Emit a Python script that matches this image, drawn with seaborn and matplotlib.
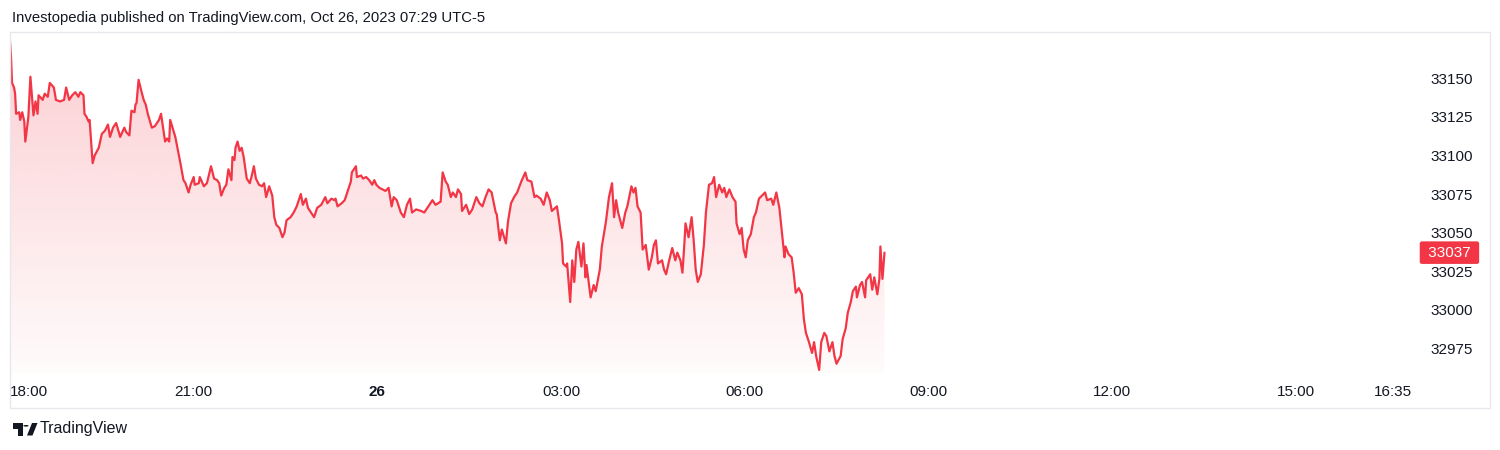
import matplotlib

matplotlib.use('Agg')
import matplotlib.pyplot as plt
import matplotlib.dates as mdates
from matplotlib.patches import Rectangle, Polygon, Circle
import seaborn as sns
import pandas as pd
import numpy as np

# ── data: Dow futures, minutes after 18:00 (Oct 25) and price ──
minutes = [0, 1, 2, 4, 5, 6, 9, 10, 12, 14, 15, 18, 20, 23, 25, 27, 28, 32, 34, 37, 39, 43, 45, 49, 53, 55,
           58, 61, 64, 67, 69, 72, 73, 75, 77, 78, 81, 83, 87, 90, 93, 96, 98, 101, 104, 108, 112, 114,
           117, 119, 122, 123, 124, 126, 129, 131, 133, 135, 139, 142, 146, 148, 150, 152, 154, 156, 157,
           161, 162, 165, 167, 170, 172, 175, 177, 180, 181, 185, 186, 190, 193, 197, 200, 203,
           205, 207, 210, 212, 214, 217, 218, 220, 221, 223, 225, 227, 229, 232, 235, 237, 239, 241, 244,
           247, 249, 251, 254, 257, 259, 261, 264, 267, 269, 271, 275, 278, 281, 285, 287, 290, 292, 295,
           298, 301, 305, 309, 311, 315, 318, 319, 321, 325, 328, 330, 334, 335, 339, 340, 344, 346, 349,
           352, 355, 357, 359, 362, 365, 368, 371, 374, 376, 379, 383, 386, 389, 392, 394, 398, 403, 406,
           411, 414, 417, 422, 424, 427, 429, 432, 434, 437, 439, 442, 443, 447, 450, 453, 457, 460, 463,
           466, 469, 472, 476, 477, 480, 482, 486, 488, 491, 494, 497, 501, 505, 507, 511, 514, 516, 520,
           523, 526, 529, 531, 536, 538, 541, 542, 545, 546, 549, 551, 553, 555, 557, 560, 562, 564, 565,
           569, 572, 574, 578, 580, 584, 587, 590, 592, 594, 596, 600, 603, 605, 609, 611, 613, 615, 618,
           620, 623, 626, 629, 631, 633, 635, 639, 641, 643, 646, 649, 652, 654, 657, 659, 661, 662, 665,
           668, 670, 672, 674, 677, 680, 682, 685, 688, 690, 692, 695, 698, 700, 702, 705, 708, 711, 712,
           715, 717, 719, 721, 723, 726, 729, 731, 734, 737, 740, 742, 746, 748, 751, 754, 757, 759, 760,
           763, 766, 768, 770, 773, 776, 778, 780, 783, 786, 788, 790, 793, 795, 798, 800, 803, 806, 808,
           810, 814, 816, 819, 821, 824, 826, 829, 830, 833, 835, 838, 839, 843, 845, 847, 850, 852, 853,
           855, 857]
prices = [33174, 33164, 33147, 33144, 33140, 33127, 33128, 33123, 33128, 33122, 33109, 33125, 33151, 33126,
          33135, 33127, 33139, 33136, 33140, 33138, 33147, 33144, 33136, 33135, 33136, 33144, 33136, 33139,
          33141, 33138, 33141, 33139, 33127, 33125, 33122, 33123, 33095, 33100, 33105, 33114, 33116, 33120,
          33112, 33118, 33121, 33112, 33118, 33115, 33113, 33129, 33128, 33133, 33134, 33149, 33141, 33136,
          33133, 33127, 33118, 33119, 33123, 33127, 33118, 33109, 33111, 33109, 33123, 33114, 33112, 33102,
          33095, 33084, 33082, 33076, 33081, 33086, 33081, 33082, 33086, 33080, 33082, 33093, 33085, 33084,
          33082, 33074, 33079, 33081, 33091, 33084, 33099, 33097, 33105, 33109, 33103, 33105, 33099, 33085,
          33082, 33087, 33093, 33085, 33081, 33080, 33082, 33073, 33080, 33074, 33060, 33055, 33053, 33047,
          33050, 33058, 33060, 33063, 33067, 33075, 33068, 33072, 33066, 33063, 33060, 33066, 33068, 33073,
          33069, 33072, 33071, 33072, 33067, 33069, 33071, 33075, 33083, 33089, 33093, 33086, 33087, 33085,
          33086, 33084, 33081, 33084, 33081, 33079, 33078, 33077, 33079, 33067, 33073, 33071, 33063, 33060,
          33068, 33072, 33063, 33065, 33064, 33063,
          33068, 33071, 33068, 33070, 33089, 33083, 33081, 33073, 33076, 33073, 33078, 33075, 33064, 33068,
          33062, 33065, 33073, 33069, 33067, 33073, 33078, 33076, 33063, 33062, 33045, 33052, 33043, 33057,
          33069, 33073, 33076, 33083, 33089, 33084, 33083, 33073, 33074, 33072, 33068, 33076, 33071, 33064,
          33067, 33058, 33043, 33030, 33028, 33030, 33005, 33032, 33018, 33039, 33044, 33028, 33043, 33021,
          33029, 33008, 33016, 33012, 33026, 33041, 33057, 33073, 33082, 33060, 33071, 33063, 33053, 33063,
          33067, 33080, 33076, 33079, 33067, 33063, 33039, 33042,
          33026, 33034, 33042, 33045, 33030, 33032, 33026, 33023, 33032, 33040, 33032, 33037, 33032, 33024,
          33044, 33056, 33047, 33060, 33045, 33026, 33018, 33023, 33042, 33063, 33081, 33082, 33086, 33073,
          33081, 33076, 33079, 33073, 33078, 33073, 33070, 33056, 33049, 33053, 33039, 33034, 33045, 33049,
          33060, 33063, 33072, 33074, 33076, 33071, 33072, 33068, 33076, 33066, 33047, 33034, 33041, 33036,
          33034, 33024, 33011, 33014, 33010, 32994, 32985, 32979, 32972, 32979, 32970, 32961, 32979, 32985,
          32983, 32973, 32979, 32970, 32965, 32970, 32981, 32988, 32998, 33005, 33012, 33015, 33008, 33016,
          33018, 33008, 33019, 33023, 33013, 33021, 33010, 33020, 33041, 33020, 33037]

tick_minutes = [0, 180, 360, 540, 720, 900, 1080, 1260, 1355]
tick_labels = ['18:00', '21:00', '26', '03:00', '06:00', '09:00', '12:00', '15:00', '16:35']
price_ticks = [32975, 33000, 33025, 33050, 33075, 33100, 33125, 33150]

RED = '#f23645'
TEXT = '#131722'
FRAME = '#e6e8ee'

sns.set_theme(style='white')
plt.rcParams['font.family'] = ['Liberation Sans', 'DejaVu Sans']

start = pd.Timestamp('2023-10-25 18:00')
df = pd.DataFrame({'time': start + pd.to_timedelta(minutes, unit='m'), 'price': prices})
tick_times = start + pd.to_timedelta(tick_minutes, unit='m')


def fig_xy(x, y):
    # pixel position (top-left origin) -> figure fraction
    return x / 1500, 1 - y / 450


fig = plt.figure(figsize=(15, 4.5), dpi=100)
ax = fig.add_axes([10 / 1500, 1 - 373 / 450, 1400 / 1500, 341 / 450])
ymin, ymax = 32959, 33180
x0, x1 = start, start + pd.Timedelta(minutes=1372)

# ── area fill with vertical gradient, clipped under the line ──
poly = ax.fill_between(df['time'], df['price'], ymin, color='none', lw=0)
n = 256
grad = np.zeros((n, 1, 4))
grad[..., 0], grad[..., 1], grad[..., 2] = 242 / 255, 54 / 255, 69 / 255
grad[:, 0, 3] = np.linspace(0.24, 0.02, n)
im = ax.imshow(grad, aspect='auto', origin='upper', interpolation='bilinear',
               extent=[mdates.date2num(x0), mdates.date2num(df['time'].iloc[-1]), ymin, max(prices)], zorder=1)
im.set_clip_path(poly.get_paths()[0], transform=ax.transData)

sns.lineplot(data=df, x='time', y='price', color=RED, linewidth=1.6, ax=ax, zorder=3)

ax.set_xlim(x0, x1)
ax.set_ylim(ymin, ymax)
for s in ax.spines.values():
    s.set_visible(False)
ax.grid(False)
ax.set_xlabel('')
ax.set_ylabel('')

ax.yaxis.tick_right()
ax.set_yticks(price_ticks)
ax.set_yticklabels([str(p) for p in price_ticks])
ax.tick_params(axis='y', length=0, pad=14.4, labelsize=11, labelcolor=TEXT)

ax.set_xticks(tick_times)
ax.set_xticklabels(tick_labels)
ax.tick_params(axis='x', length=0, pad=8.4, labelsize=11, labelcolor=TEXT)
xl = ax.get_xticklabels()
xl[0].set_horizontalalignment('left')
xl[2].set_fontweight('bold')

# last price tag
ax.annotate(f' {prices[-1]} ', xy=(1, prices[-1]), xycoords=('axes fraction', 'data'),
            xytext=(14, 0), textcoords='offset pixels', ha='left', va='center',
            fontsize=11, color='white', annotation_clip=False,
            bbox=dict(boxstyle='round,pad=0.28,rounding_size=0.15', fc=RED, ec='none'))

# outer frame
fx, fy = fig_xy(10, 408)
fig.add_artist(Rectangle((fx, fy), 1480 / 1500, 376 / 450, transform=fig.transFigure,
                         fill=False, ec=FRAME, lw=1))

# header and footer
hx, hy = fig_xy(12, 18)
fig.text(hx, hy, 'Investopedia published on TradingView.com, Oct 26, 2023 07:29 UTC-5',
         ha='left', va='center', fontsize=10.75, color=TEXT)
tx, ty = fig_xy(40, 429)
fig.text(tx, ty, 'TradingView', ha='left', va='center', fontsize=11.5, color=TEXT)

# TradingView logo glyph
logo = [
    Polygon([fig_xy(12.5, 423), fig_xy(23, 423), fig_xy(23, 435.5), fig_xy(17.5, 435.5),
             fig_xy(17.5, 428.5), fig_xy(12.5, 428.5)], closed=True),
    Polygon([fig_xy(27, 435.5), fig_xy(32.5, 435.5), fig_xy(37.5, 423), fig_xy(32, 423)], closed=True),
]
for p in logo:
    p.set_transform(fig.transFigure)
    p.set_facecolor(TEXT)
    p.set_edgecolor('none')
    fig.add_artist(p)
cx, cy = fig_xy(26, 425.8)
fig.add_artist(Circle((cx, cy), 2.7 / 1500, transform=fig.transFigure, fc=TEXT, ec='none'))

plt.savefig('out.png', dpi=100)
